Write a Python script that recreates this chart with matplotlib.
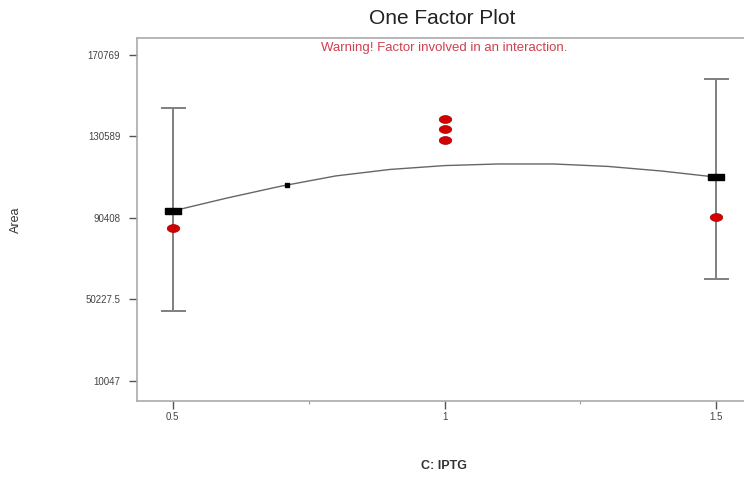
import numpy as np
import matplotlib.pyplot as plt

plt.rcParams['font.family'] = ['Liberation Sans', 'DejaVu Sans']

# factor levels and model predictions
levels = [0.5, 1.5]
predicted = [93800, 110500]
ci_low = [44400, 60000]
ci_high = [144800, 158900]

# observed design points
obs_x = [0.5, 1.0, 1.0, 1.0, 1.5]
obs_y = [85400, 139000, 134100, 129000, 91000]

# fitted curve, read at several points
curve_x = [0.5, 0.6, 0.7, 0.8, 0.9, 1.0, 1.1, 1.2, 1.3, 1.4, 1.5]
curve_y = [93800, 100200, 106100, 111100, 114300, 116200, 117000, 117000, 115800, 113500, 110500]

# current setting marker on the curve
cur_x = 0.71
cur_y = 106600

y_ticks = [10047, 50227.5, 90408, 130589, 170769]
y_labels = ["10047", "50227.5", "90408", "130589", "170769"]
x_ticks = [0.5, 1, 1.5]
x_labels = ["0.5", "1", "1.5"]

fig = plt.figure(figsize=(7.44, 4.78), dpi=100)
ax = fig.add_axes([0.184, 0.161, 0.827, 0.7605])

t = np.linspace(0, 2 * np.pi, 40)
ellipse = list(zip(1.6 * np.cos(t), np.sin(t)))
rect = [(-2.0, -0.85), (2.0, -0.85), (2.0, 0.85), (-2.0, 0.85), (-2.0, -0.85)]

ax.errorbar(levels, predicted,
            yerr=[np.array(predicted) - np.array(ci_low), np.array(ci_high) - np.array(predicted)],
            fmt='none', ecolor='#7f7f7f', elinewidth=1.4, capsize=9, capthick=1.4, zorder=2)
ax.plot(curve_x, curve_y, color='#666666', lw=1.0, zorder=3)
ax.plot(levels, predicted, linestyle='none', marker=rect, ms=11, color='black', zorder=4)
ax.plot([cur_x], [cur_y], linestyle='none', marker='s', ms=2.5, color='black', zorder=4)
ax.plot(obs_x, obs_y, linestyle='none', marker=ellipse, ms=9, color='#d40000',
        markeredgecolor='#a00000', markeredgewidth=0.5, zorder=5)

ax.set_xlim(0.434, 1.566)
ax.set_ylim(0, 179400)
ax.set_yticks(y_ticks)
ax.set_yticklabels(y_labels)
ax.set_xticks(x_ticks)
ax.set_xticklabels(x_labels)
ax.set_xticks([0.75, 1.25], minor=True)
ax.tick_params(axis='both', which='major', direction='out', length=6, width=1,
               color='#555555', labelsize=7, labelcolor='#444444', pad=6)
ax.tick_params(axis='x', which='major', pad=2)
ax.tick_params(axis='x', which='minor', direction='out', length=2, width=0.8, color='#999999')

for s in ax.spines.values():
    s.set_color('#aaaaaa')
    s.set_linewidth(1.2)

fig.text(0.595, 0.962, "One Factor Plot", ha='center', va='center', fontsize=15, color='#222222')
ax.text(0.5, 0.972, "Warning! Factor involved in an interaction.", transform=ax.transAxes,
        ha='center', va='center', fontsize=9.5, color='#d04050')
fig.text(0.022, 0.54, "Area", rotation=90, ha='center', va='center', fontsize=9, color='#333333')
fig.text(0.597, 0.025, "C: IPTG", ha='center', va='center', fontsize=9, color='#333333',
         fontweight='bold')

fig.savefig('out.png', dpi=100)
